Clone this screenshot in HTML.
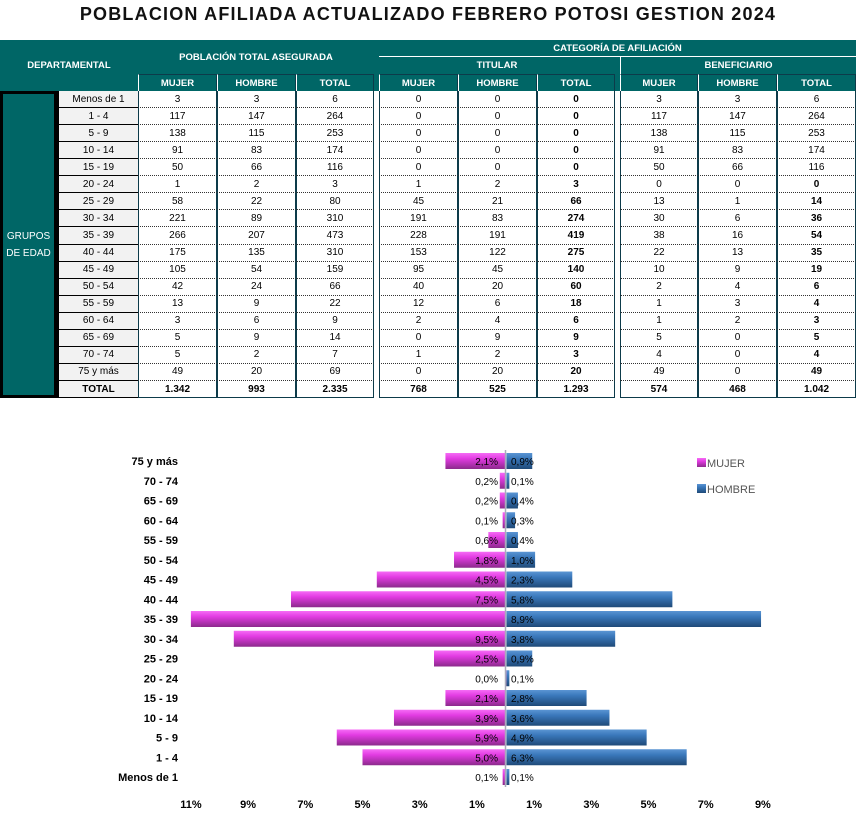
<!DOCTYPE html>
<html><head><meta charset="utf-8">
<style>
body{margin:0;width:856px;height:818px;background:#fff;font-family:"Liberation Sans",sans-serif;position:relative;overflow:hidden}
.a{position:absolute;box-sizing:border-box;display:flex;align-items:center;justify-content:center;font-size:10px;white-space:nowrap}
.h{background:#006666;color:#fff;font-weight:bold;font-size:9.5px}
.title{position:absolute;left:0;top:4px;width:856px;text-align:center;font-weight:bold;font-size:18px;letter-spacing:1.2px;color:#111}
</style></head><body>
<div class="title">POBLACION AFILIADA ACTUALIZADO FEBRERO POTOSI GESTION 2024</div>
<div id="tbl"></div>
<svg id="chart" width="856" height="818" style="position:absolute;left:0;top:0" xmlns="http://www.w3.org/2000/svg">
<defs>
<linearGradient id="gm" x1="0" y1="0" x2="0" y2="1"><stop offset="0" stop-color="#f56cf5"/><stop offset="0.35" stop-color="#e23be2"/><stop offset="1" stop-color="#8c2a8c"/></linearGradient>
<linearGradient id="gh" x1="0" y1="0" x2="0" y2="1"><stop offset="0" stop-color="#5b95d3"/><stop offset="0.35" stop-color="#3a78bb"/><stop offset="1" stop-color="#1f4a78"/></linearGradient>
</defs>
</svg>
<script>
// ---------- table data ----------
const groups=["Menos de 1","1 - 4","5 - 9","10 - 14","15 - 19","20 - 24","25 - 29","30 - 34","35 - 39","40 - 44","45 - 49","50 - 54","55 - 59","60 - 64","65 - 69","70 - 74","75 y más"];
const totM=[3,117,138,91,50,1,58,221,266,175,105,42,13,3,5,5,49];
const totH=[3,147,115,83,66,2,22,89,207,135,54,24,9,6,9,2,20];
const totT=[6,264,253,174,116,3,80,310,473,310,159,66,22,9,14,7,69];
const titM=[0,0,0,0,0,1,45,191,228,153,95,40,12,2,0,1,0];
const titH=[0,0,0,0,0,2,21,83,191,122,45,20,6,4,9,2,20];
const titT=[0,0,0,0,0,3,66,274,419,275,140,60,18,6,9,3,20];
const benM=[3,117,138,91,50,0,13,30,38,22,10,2,1,1,5,4,49];
const benH=[3,147,115,83,66,0,1,6,16,13,9,4,3,2,0,0,0];
const benT=[6,264,253,174,116,0,14,36,54,35,19,6,4,3,5,4,49];
const totals=["1.342","993","2.335","768","525","1.293","574","468","1.042"];

const T=document.getElementById('tbl');
function box(x,y,w,h,txt,cls,style,name){
  const d=document.createElement('div');
  d.className='a '+(cls||'');
  d.style.cssText=`left:${x}px;top:${y}px;width:${w}px;height:${h}px;`+(style||'');
  d.textContent=txt;
  
  
  T.appendChild(d);return d;
}
box(0,40,856,51,'','h','','header-band');
box(0,40,138,51,'DEPARTAMENTAL','h','','departamental-header');
box(138,40,236,34,'POBLACIÓN TOTAL ASEGURADA','h','','total-header');
box(379,40,477,17,'CATEGORÍA DE AFILIACIÓN','h','border-bottom:1px solid #fff','categoria-header');
box(379,57,236,17,'TITULAR','h','','titular-header');
box(620,57,236,17,'BENEFICIARIO','h','border-left:1px solid #fff','beneficiario-header');
const colX=[138,217,296,379,458,537,620,698,777];
const colW=[79,79,78,79,79,78,78,79,79];
const sub=["MUJER","HOMBRE","TOTAL"];
colX.forEach((x,i)=>box(x,74,colW[i],17,sub[i%3],'h','border:1px solid #0d3b4a;border-bottom:none;border-left-color:#fff','col-header'));
box(0,91,57,307,'','h','border:3px solid #000;border-right-width:3px','grupos-block');
box(0,91,57,307,'GRUPOS\nDE EDAD','h','white-space:pre;font-weight:normal;font-size:10px;line-height:17px;text-align:center;background:transparent','grupos-label');
const RH=17.06;
const cols=[totM,totH,totT,titM,titH,titT,benM,benH,benT];
groups.forEach((g,r)=>{
  const y=91+r*RH;
  box(57,y,81,RH,g,'','background:#f2f2f2;border-bottom:1px solid #000;border-left:2px solid #000','age-label');
  cols.forEach((c,i)=>{
    const bold=(i==5)||(i==8&&r>=5);
    box(colX[i],y,colW[i],RH,String(c[r]),'',`border-bottom:1px dotted #333;border-left:1px solid #0d3b4a;border-right:1px solid #0d3b4a;${bold?'font-weight:bold;':''}`,'value-cell');
  });
});
const ty=91+17*RH;
box(57,ty,81,RH,'TOTAL','','font-weight:bold;background:#f2f2f2;border-left:2px solid #000;border-bottom:1px solid #000','total-label');
totals.forEach((t,i)=>box(colX[i],ty,colW[i],RH,t,'','font-weight:bold;border:1px solid #0d3b4a;border-top:none','total-cell'));

// ---------- chart data ----------
const categories=["Menos de 1","1 - 4","5 - 9","10 - 14","15 - 19","20 - 24","25 - 29","30 - 34","35 - 39","40 - 44","45 - 49","50 - 54","55 - 59","60 - 64","65 - 69","70 - 74","75 y más"];
const mujerPct=[0.1,5.0,5.9,3.9,2.1,0.0,2.5,9.5,11.4,7.5,4.5,1.8,0.6,0.1,0.2,0.2,2.1];
const hombrePct=[0.1,6.3,4.9,3.6,2.8,0.1,0.9,3.8,8.9,5.8,2.3,1.0,0.4,0.3,0.4,0.1,0.9];
const mujerLabels=["0,1%","5,0%","5,9%","3,9%","2,1%","0,0%","2,5%","9,5%","","7,5%","4,5%","1,8%","0,6%","0,1%","0,2%","0,2%","2,1%"];
const hombreLabels=["0,1%","6,3%","4,9%","3,6%","2,8%","0,1%","0,9%","3,8%","8,9%","5,8%","2,3%","1,0%","0,4%","0,3%","0,4%","0,1%","0,9%"];
const ticks=[-11,-9,-7,-5,-3,-1,1,3,5,7,9];
const tickLabels=["11%","9%","7%","5%","3%","1%","1%","3%","5%","7%","9%"];

const cx=505.5, ppp=28.6, minV=-11;
const xs=v=>cx+Math.max(v,minV)*ppp;
const ys=i=>777-i*19.75;
const S=document.getElementById('chart'),NS='http://www.w3.org/2000/svg';
function el(t,a,txt){const e=document.createElementNS(NS,t);for(const k in a)e.setAttribute(k,a[k]);if(txt!=null)e.textContent=txt;S.appendChild(e);return e;}
categories.forEach((c,i)=>{
  const y=ys(i);
  const l=el('text',{x:178,y:y+4,'text-anchor':'end','font-size':'11','font-weight':'bold','font-family':'Liberation Sans'},c);
  
  
  const xm=xs(-mujerPct[i]);
  const bm=el('rect',{x:xm,y:y-8,width:Math.max(cx-xm,0.8),height:16,fill:'url(#gm)'});
  
  
  const xh=xs(hombrePct[i]);
  const bh=el('rect',{x:cx+1,y:y-8,width:Math.max(xh-cx,0.8),height:16,fill:'url(#gh)'});
  
  
  const tm=el('text',{x:498,y:y+4,'text-anchor':'end','font-size':'10','font-family':'Liberation Sans'},mujerLabels[i]);
  
  
  const th=el('text',{x:511,y:y+4,'font-size':'10','font-family':'Liberation Sans'},hombreLabels[i]);
  
  
});
const ax=el('line',{x1:cx,y1:450,x2:cx,y2:787,stroke:'#aab','stroke-width':1.5});


ticks.forEach((t,i)=>{
  const tx=el('text',{x:cx+t*ppp,y:808,'text-anchor':'middle','font-size':'11','font-weight':'bold','font-family':'Liberation Sans'},tickLabels[i]);
  
  
});
[["MUJER","url(#gm)",463],["HOMBRE","url(#gh)",489]].forEach(([n,f,y])=>{
  const r=el('rect',{x:697,y:y-5,width:9,height:9,fill:f});
  
  
  const t=el('text',{x:707,y:y+4,'font-size':'11','fill':'#555','font-family':'Liberation Sans'},n);
  
  
});
</script>
</body></html>
